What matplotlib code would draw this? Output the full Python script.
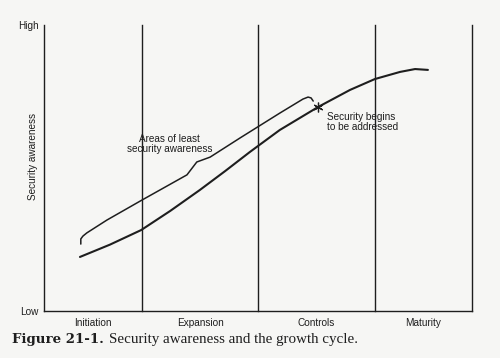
import numpy as np
import matplotlib
matplotlib.use("Agg")
import matplotlib.pyplot as plt

# growth stages and their boundaries (percent of the horizontal span)
stages = ["Initiation", "Expansion", "Controls", "Maturity"]
boundaries = [0, 22.9, 50.0, 77.3, 100]

# security awareness curve (percent of scale)
aware_x = [8.4, 15.4, 22.7, 29.5, 36.4, 42.3, 48.1, 55.1, 64.0, 71.5, 77.3, 83.2, 86.7, 89.7]
aware_y = [18.9, 23.2, 28.3, 35.0, 42.3, 48.9, 55.6, 63.3, 71.3, 77.3, 81.1, 83.6, 84.6, 84.3]

# brace marking the area of least awareness
brace_x = [8.6, 8.6, 9.1, 10.0, 14.7, 22.9, 33.4, 35.7, 38.8, 45.8, 55.1, 60.5, 61.7, 62.4, 62.9]
brace_y = [23.4, 25.2, 26.2, 27.3, 31.8, 38.8, 47.6, 52.1, 53.8, 60.5, 69.2, 74.1, 74.8, 74.5, 73.4]

# point where security begins to be addressed
start_x, start_y = 64.0, 71.3

ink = "#1e1e1e"
paper = "#f6f6f4"
plt.rcParams["font.family"] = ["Liberation Sans", "DejaVu Sans"]

fig = plt.figure(figsize=(5.0, 3.58), dpi=100, facecolor=paper)
ax = fig.add_axes([44 / 500, 47 / 358, 428 / 500, 286 / 358])
ax.set_facecolor(paper)
ax.set_xlim(0, 100)
ax.set_ylim(0, 100)

for s in ["top", "right"]:
    ax.spines[s].set_visible(False)
for s in ["left", "bottom"]:
    ax.spines[s].set_color(ink)
    ax.spines[s].set_linewidth(1.0)

for b in boundaries[1:]:
    ax.axvline(b, color=ink, lw=1.0, clip_on=False)

ax.plot(aware_x, aware_y, color=ink, lw=1.5, solid_capstyle="round")
ax.plot(brace_x, brace_y, color=ink, lw=1.1, solid_capstyle="round")
ax.plot([start_x], [start_y], marker=(6, 2, 0), ms=7, color=ink, mew=0.9)

mids = [(boundaries[i] + boundaries[i + 1]) / 2 for i in range(len(stages))]
ax.set_xticks(mids)
ax.set_xticklabels(stages, fontsize=7.2, color=ink)
ax.set_yticks([0, 100])
ax.set_yticklabels(["Low", "High"], fontsize=7.2, color=ink)
ax.tick_params(length=0, pad=4)
ax.tick_params(axis="x", pad=5)

ax.set_ylabel("Security awareness", fontsize=7.2, color=ink)
ax.yaxis.set_label_coords(-0.014, 0.54)

ax.text(29.4, 58.4, "Areas of least\nsecurity awareness", fontsize=7.2, color=ink,
        ha="center", va="center", linespacing=1.0)
ax.text(66.1, 66.1, "Security begins\nto be addressed", fontsize=7.2, color=ink,
        ha="left", va="center", linespacing=1.0)

fig.text(12 / 500, 1 - 340 / 358, "Figure 21-1.", fontsize=9.6, fontweight="bold",
         family="DejaVu Serif", color=ink, va="center")
fig.text(109 / 500, 1 - 340 / 358, "Security awareness and the growth cycle.", fontsize=10.8,
         family="Liberation Serif", color=ink, va="center")

fig.savefig("out.png", dpi=100, facecolor=paper)
